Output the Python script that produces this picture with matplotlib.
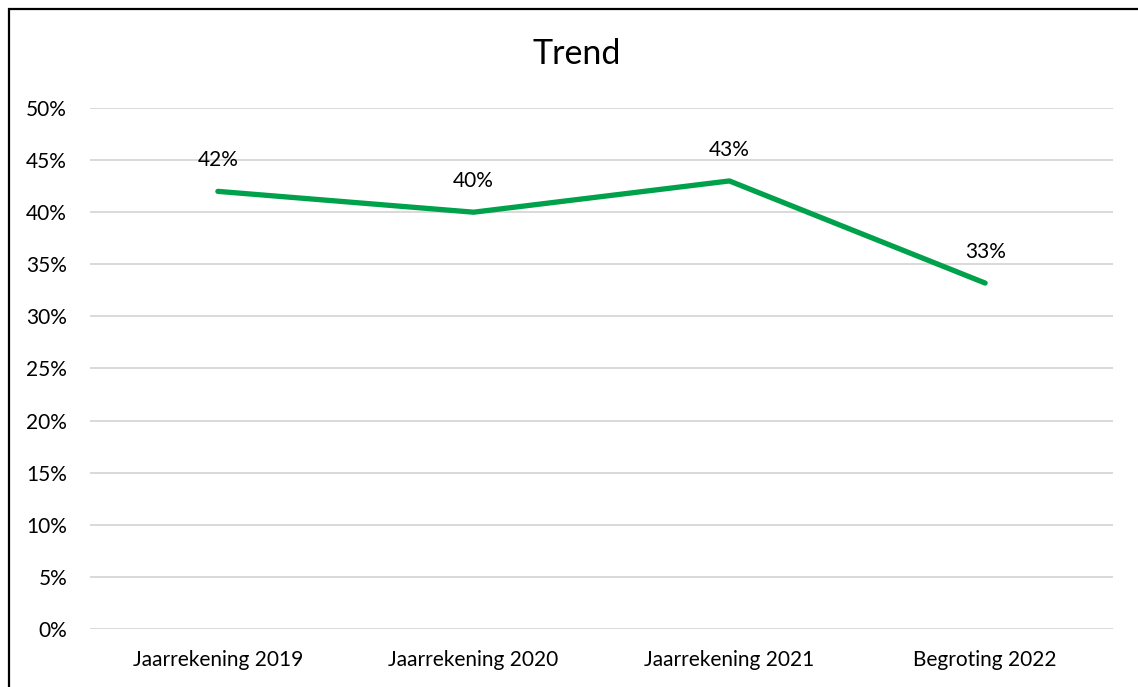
import matplotlib
matplotlib.use("Agg")
import matplotlib.pyplot as plt
from matplotlib.patches import Rectangle
from matplotlib.ticker import PercentFormatter, MultipleLocator

# data
categories = ['Jaarrekening 2019', 'Jaarrekening 2020', 'Jaarrekening 2021', 'Begroting 2022']
values = [0.42, 0.40, 0.43, 0.332]
labels = ['42%', '40%', '43%', '33%']

W, H = 1138, 687
plt.rcParams['font.family'] = ['Lato', 'DejaVu Sans']

fig = plt.figure(figsize=(W / 100, H / 100), dpi=100)
ax = fig.add_axes([90 / W, 1 - 629 / H, (1113 - 90) / W, (629 - 108) / H])

x = list(range(len(categories)))
ax.plot(x, values, color='#00A14B', linewidth=3.8, solid_capstyle='round', zorder=3)
for xi, v, lab in zip(x, values, labels):
    ax.annotate(lab, (xi, v), xytext=(0, 22.5), textcoords='offset points',
                ha='center', va='center', fontsize=15, color='#000000')

ax.set_xlim(-0.5, len(categories) - 0.5)
ax.set_ylim(0, 0.5)
ax.yaxis.set_major_locator(MultipleLocator(0.05))
ax.yaxis.set_major_formatter(PercentFormatter(1.0, decimals=0))
ax.set_xticks(x)
ax.set_xticklabels(categories)
ax.grid(axis='y', color='#D9D9D9', linewidth=1.4)
ax.set_axisbelow(True)
for s in ax.spines.values():
    s.set_visible(False)
ax.tick_params(axis='both', length=0, labelsize=15, colors='#000000')
ax.tick_params(axis='y', pad=16.5)
ax.tick_params(axis='x', pad=15)

fig.text(577 / W, 1 - 54 / H, 'Trend', ha='center', va='center', fontsize=24.5)

# chart border (only top/left visible in the crop)
fig.patches.append(Rectangle((9 / W, -0.1), 1.2, 1 - 9 / H + 0.1, transform=fig.transFigure,
                             fill=False, edgecolor='#000000', linewidth=1.6))

fig.savefig('out.png', dpi=100)
